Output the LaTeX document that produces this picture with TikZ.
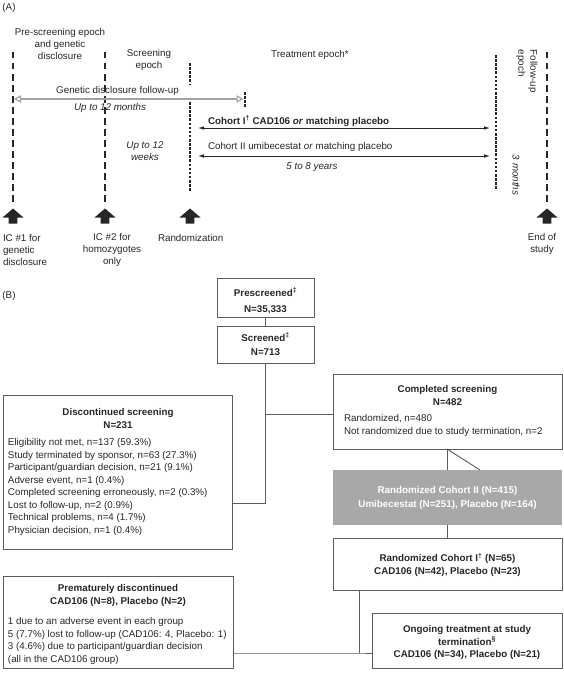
\documentclass[tikz,border=0pt]{standalone}
\usepackage{fontspec}
\setmainfont{Liberation Sans}
\usetikzlibrary{arrows.meta}
\definecolor{txt}{HTML}{262626}
\definecolor{frame}{HTML}{5C5C5C}
\definecolor{boxgray}{HTML}{A8A8A8}
\definecolor{arrgray}{HTML}{A3A3A3}
\begin{document}
\begin{tikzpicture}[x=1pt,y=-1pt,
  every node/.style={inner sep=0pt, outer sep=0pt, text=txt, font=\fontsize{9.8}{12}\selectfont},
  lab/.style={align=center},
  itl/.style={font=\fontsize{9.8}{12}\selectfont\itshape},
  lst/.style={align=left, anchor=west, font=\fontsize{9.8}{12.5}\selectfont},
  ttl/.style={align=center, font=\fontsize{9.8}{13}\selectfont\bfseries},
  boxnode/.style={draw=frame, line width=0.9pt, anchor=north west},
  conn/.style={draw=frame, line width=0.9pt},
  thickdash/.style={draw=txt, line width=2.8pt, dash pattern=on 6.5pt off 4.5pt},
  thindash/.style={draw=txt, line width=1.3pt, dash pattern=on 2.6pt off 1.5pt},
  cohort/.style={draw=txt, line width=0.8pt, {Latex[length=6pt,width=3.6pt]}-{Latex[length=6pt,width=3.6pt]}},
  gdarrow/.style={draw=arrgray, line width=1.8pt, {Triangle[open,length=7pt,width=7.5pt,line width=1.2pt]}-{Triangle[open,length=7pt,width=7.5pt,line width=1.2pt]}}
]
\useasboundingbox (0,0) rectangle (563,677);

% ---------------- Panel A ----------------
\node (A) at (9,8) {(A)};
\node[lab] (preep) at (60,43.5) {Pre-screening epoch\\and genetic\\disclosure};
\node[lab] (screp) at (149,60) {Screening\\epoch};
\node (trtep) at (310,55) {Treatment epoch*};
\node[rotate=-90, anchor=north west, align=left] (fuep) at (537.5,50) {Follow-up\\epoch};
\node[itl, rotate=-90] (tmon) at (516,175) {3 months};

% vertical epoch lines
\draw[thickdash] (13,52) -- (13,205);
\draw[thickdash] (105,52) -- (105,205);
\draw[thindash] (190,63) -- (190,85);
\draw[thindash] (190,102) -- (190,192);
\draw[thindash] (245,92) -- (245,108);
\draw[thindash] (496,55) -- (496,190);
\draw[thickdash] (547,52) -- (547,205);

% genetic disclosure follow-up
\coordinate (gdL) at (14,99);
\coordinate (gdR) at (243.5,99);
\draw[gdarrow] (gdL) -- (gdR);
\node (gdf) at (117.5,91) {Genetic disclosure follow-up};
\node[itl] (ut12m) at (110,107.5) {Up to 12 months};

% cohort arrows
\coordinate (c1L) at (198,128);
\coordinate (c1R) at (490,128);
\coordinate (c2L) at (198,156);
\coordinate (c2R) at (490,156);
\draw[cohort] (c1L) -- (c1R);
\draw[cohort] (c2L) -- (c2R);
\node[anchor=west] (c1txt) at (208,121) {\textbf{Cohort I\textsuperscript{†} CAD106 \textit{or} matching placebo}};
\node[anchor=west] (c2txt) at (208,146.5) {Cohort II umibecestat \textit{or} matching placebo};
\node[itl] (yrs) at (312,167) {5 to 8 years};
\node[itl, align=center] (ut12w) at (145,151) {Up to 12\\weeks};

% fat up arrows
\foreach \xx in {13,105,190,547}{
  \fill[txt] (\xx-10.5,217.5) -- (\xx,208.5) -- (\xx+10.5,217.5) -- (\xx+4.3,217.5) -- (\xx+4.3,223.5) -- (\xx-4.3,223.5) -- (\xx-4.3,217.5) -- cycle;
}
\node[align=left, anchor=west] (ic1) at (3,250) {IC \#1 for\\genetic\\disclosure};
\node[lab] (ic2) at (112,250) {IC \#2 for\\homozygotes\\only};
\node[anchor=west] (rand) at (158,238) {Randomization};
\node[lab] (eos) at (542,244) {End of\\study};

% ---------------- Panel B ----------------
\node (B) at (9,296) {(B)};

\node[boxnode, minimum width=97pt, minimum height=39pt] (pre) at (217,278) {};
\node[ttl, font=\fontsize{9.8}{16}\selectfont\bfseries] (pret) at (265.5,301) {Prescreened\textsuperscript{‡}\\N=35,333};

\node[boxnode, minimum width=97pt, minimum height=37pt] (scr) at (217,326) {};
\node[ttl, font=\fontsize{9.8}{14.4}\selectfont\bfseries] (scrt) at (265.5,344.5) {Screened\textsuperscript{‡}\\N=713};

\node[boxnode, minimum width=229pt, minimum height=154pt] (disc) at (3,395) {};
\node[ttl] (disct) at (118,418.5) {Discontinued screening\\N=231};
\node[lst] (discl) at (8,487) {Eligibility not met, n=137 (59.3\%)\\
Study terminated by sponsor, n=63 (27.3\%)\\
Participant/guardian decision, n=21 (9.1\%)\\
Adverse event, n=1 (0.4\%)\\
Completed screening erroneously, n=2 (0.3\%)\\
Lost to follow-up, n=2 (0.9\%)\\
Technical problems, n=4 (1.7\%)\\
Physician decision, n=1 (0.4\%)};

\node[boxnode, minimum width=229pt, minimum height=75pt] (comp) at (333,374) {};
\node[ttl] (compt) at (447.5,395) {Completed screening\\N=482};
\node[lst] (compl) at (344,425.5) {Randomized, n=480\\Not randomized due to study termination, n=2};

\node[boxnode, draw=none, fill=boxgray, minimum width=229pt, minimum height=55pt] (coh2) at (333,470) {};
\node[ttl, text=white, font=\fontsize{9.8}{14}\selectfont\bfseries] (coh2t) at (447.5,498) {Randomized Cohort II (N=415)\\Umibecestat (N=251), Placebo (N=164)};

\node[boxnode, minimum width=229pt, minimum height=52pt] (coh1) at (333,538) {};
\node[ttl] (coh1t) at (447.5,565) {Randomized Cohort I\textsuperscript{†} (N=65)\\CAD106 (N=42), Placebo (N=23)};

\node[boxnode, minimum width=230pt, minimum height=92pt] (prem) at (3,576) {};
\node[ttl] (premt) at (118,595.5) {Prematurely discontinued\\CAD106 (N=8), Placebo (N=2)};
\node[lst] (preml) at (8,641) {1 due to an adverse event in each group\\
5 (7.7\%) lost to follow-up (CAD106: 4, Placebo: 1)\\
3 (4.6\%) due to participant/guardian decision\\
(all in the CAD106 group)};

\node[boxnode, minimum width=190pt, minimum height=55pt] (ong) at (372,613) {};
\node[ttl, font=\fontsize{9.8}{12.5}\selectfont\bfseries] (ongt) at (467,642.5) {Ongoing treatment at study\\termination\textsuperscript{§}\\CAD106 (N=34), Placebo (N=21)};

% connectors
\draw[conn] (pre.south) -- (scr.north);
\coordinate (j1) at (265.5,414);
\coordinate (j2) at (265.5,503);
\draw[conn] (scr.south) -- (j2) -- (disc.east |- j2);
\draw[conn] (j1) -- (comp.west |- j1);
\coordinate (j3) at (447,449);
\coordinate (j3b) at (447,470);
\coordinate (j3c) at (480,470);
\draw[conn] (j3) -- (j3b);
\draw[conn] (j3) -- (j3c);
\draw[conn] (coh2.south -| j3) -- (coh1.north -| j3);
\coordinate (j4) at (359,590);
\coordinate (j5) at (359,653);
\draw[conn] (j4) -- (j5);
\draw[conn] (prem.east |- j5) -- (j5) -- (ong.west |- j5);
\end{tikzpicture}
\end{document}
